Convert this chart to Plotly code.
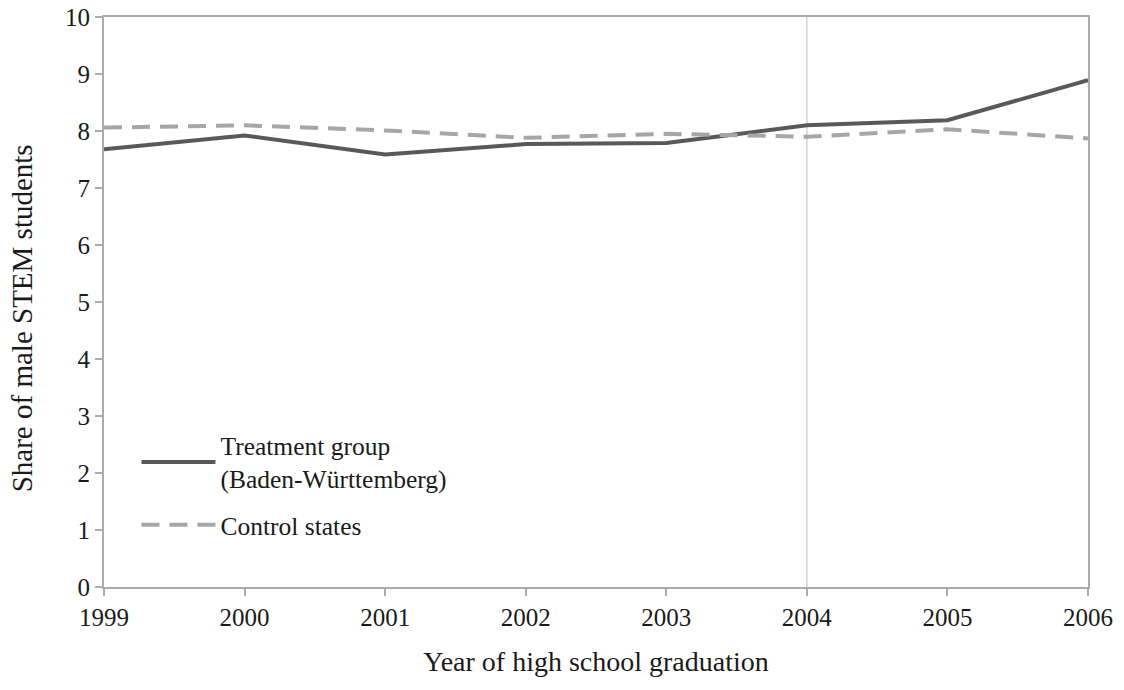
import plotly.graph_objects as go

years = [1999, 2000, 2001, 2002, 2003, 2004, 2005, 2006]
treatment = [7.68, 7.92, 7.59, 7.77, 7.79, 8.10, 8.19, 8.89]
control = [8.06, 8.10, 8.01, 7.88, 7.95, 7.90, 8.03, 7.87]
reform_year = 2004
y_ticks = list(range(0, 11))

FONT = "Liberation Serif, Times New Roman, serif"
AXIS_COLOR = "#ABABAB"

fig = go.Figure()
fig.add_trace(go.Scatter(
    x=years, y=treatment, mode="lines",
    name="Treatment group<br>(Baden-Württemberg)", legendgroup="t",
    line=dict(color="#595959", width=4),
))
fig.add_trace(go.Scatter(
    x=years, y=control, mode="lines",
    name="Control states", legendgroup="c",
    line=dict(color="#A6A6A6", width=4, dash="18px,10px"),
))

fig.add_shape(type="line", xref="x", yref="paper", x0=reform_year, x1=reform_year,
              y0=0, y1=1, line=dict(color="#D3D3D3", width=1.5), layer="below")

fig.add_annotation(
    text="Share of male STEM students", textangle=-90,
    xref="paper", yref="paper", x=-0.083, y=0.472,
    xanchor="center", yanchor="middle", showarrow=False,
    font=dict(size=29, family=FONT, color="#1a1a1a"),
)

fig.update_layout(
    width=1124, height=690,
    margin=dict(l=104, r=36, t=17, b=103, autoexpand=False),
    paper_bgcolor="white", plot_bgcolor="white",
    font=dict(family=FONT, size=25, color="#1a1a1a"),
    showlegend=True,
    legend=dict(
        x=0.033, y=0.289, xanchor="left", yanchor="top",
        bgcolor="rgba(0,0,0,0)", font=dict(size=25.5, family=FONT),
        itemwidth=74, tracegroupgap=10,
    ),
    xaxis=dict(
        range=[years[0], years[-1]], tickmode="array", tickvals=years,
        ticktext=[str(y) for y in years], automargin=False,
        showgrid=False, zeroline=False, showline=True, linecolor=AXIS_COLOR, linewidth=2,
        mirror=True, ticks="outside", ticklen=7, tickcolor=AXIS_COLOR, tickwidth=1.5,
        tickfont=dict(size=25),
        title=dict(text="Year of high school graduation", font=dict(size=28), standoff=21),
    ),
    yaxis=dict(
        range=[0, 10], tickmode="array", tickvals=y_ticks, automargin=False,
        showgrid=False, zeroline=False, showline=True, linecolor=AXIS_COLOR, linewidth=2,
        mirror=True, ticks="outside", ticklen=7, tickcolor=AXIS_COLOR, tickwidth=1.5,
        tickfont=dict(size=25),
    ),
)

fig.write_html("out.html", config={"displayModeBar": False})

# remove default page margin so the figure sits at the window's top-left corner
with open("out.html", encoding="utf-8") as f:
    html = f.read()
html = html.replace("<head>", "<head><style>html,body{margin:0;padding:0;}</style>", 1)
with open("out.html", "w", encoding="utf-8") as f:
    f.write(html)
